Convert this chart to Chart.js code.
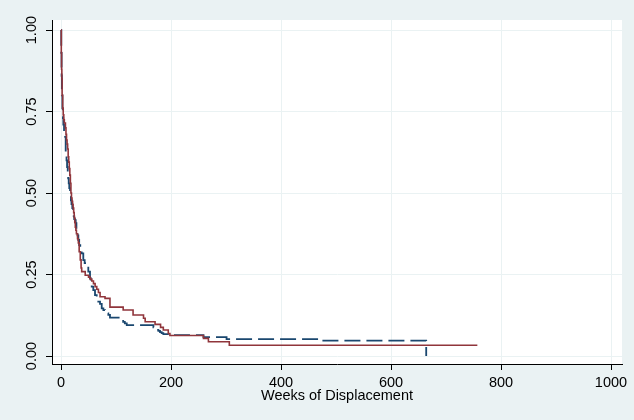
<!DOCTYPE html>
<html>
<head>
<meta charset="utf-8">
<script src="https://cdn.jsdelivr.net/npm/chart.js@4/dist/chart.umd.min.js"></script>
<style>
  html, body { margin: 0; padding: 0; background: #eaf2f3; }
  #c { display: block; }
</style>
</head>
<body>
<canvas id="c" width="634" height="420"></canvas>
<script>
// Kaplan-Meier style survival (weeks, share still displaced)
const blueWeeks = [0, 0.5, 1, 1.5, 2.5, 3.5, 4.2, 5.5, 7, 8.5, 10, 11, 12.2, 13, 14, 15, 16.4, 17, 18, 19, 20.5, 22, 23, 24, 25.5, 26.7, 28, 30, 31.5, 33, 35, 37.6, 40.5, 43, 46.7, 49.6, 52.7, 54, 55.8, 58.7, 61.8, 64.9, 67.8, 70.9, 74, 77, 80, 83, 86, 89, 113, 116, 119.5, 168, 171, 174, 177, 180, 183, 186, 195, 259, 301, 471, 664];
const blueSurv  = [1.0, 0.93, 0.86, 0.80, 0.76, 0.73, 0.71, 0.69, 0.673, 0.623, 0.60, 0.58, 0.555, 0.545, 0.53, 0.515, 0.504, 0.49, 0.478, 0.466, 0.454, 0.44, 0.43, 0.42, 0.417, 0.408, 0.39, 0.37, 0.356, 0.34, 0.325, 0.315, 0.294, 0.285, 0.279, 0.259, 0.239, 0.228, 0.213, 0.202, 0.187, 0.178, 0.167, 0.16, 0.146, 0.141, 0.136, 0.131, 0.126, 0.118, 0.105, 0.10, 0.095, 0.088, 0.084, 0.080, 0.077, 0.073, 0.07, 0.067, 0.064, 0.058, 0.052, 0.047, 0.0];

const redWeeks = [0, 0.5, 1, 1.5, 2, 3, 4, 5, 6, 8, 9, 10, 11, 12, 13, 14, 15, 16, 17, 18, 19, 20, 21, 22, 23, 24, 25, 26, 27, 28, 30, 31.5, 33, 35, 36.5, 37.6, 44, 50, 53, 56, 59, 62, 65, 68, 71, 80, 89, 113, 131, 150, 153, 171, 181, 186, 195, 198, 259, 268, 306, 757];
const redSurv  = [1.0, 0.93, 0.88, 0.85, 0.80, 0.76, 0.74, 0.725, 0.715, 0.70, 0.68, 0.663, 0.65, 0.635, 0.611, 0.595, 0.575, 0.555, 0.53, 0.50, 0.485, 0.475, 0.465, 0.454, 0.44, 0.425, 0.41, 0.395, 0.386, 0.375, 0.36, 0.347, 0.32, 0.295, 0.27, 0.259, 0.248, 0.242, 0.236, 0.23, 0.222, 0.213, 0.205, 0.195, 0.182, 0.177, 0.15, 0.141, 0.126, 0.116, 0.105, 0.097, 0.088, 0.08, 0.069, 0.063, 0.054, 0.044, 0.033, 0.033];

const xTicks = [0, 200, 400, 600, 800, 1000];
const yTicks = [0, 0.25, 0.5, 0.75, 1];
const xTitle = 'Weeks of Displacement';

const navy = '#1a476f';
const maroon = '#90353b';
const bluishGray = '#eaf2f3';
const font = { family: 'Liberation Sans, Arial, sans-serif', size: 14.5 };

function toPoints(xs, ys) {
  return xs.map((x, i) => ({ x: x, y: ys[i] }));
}

const plotBg = {
  id: 'plotBg',
  beforeDraw(chart) {
    const { ctx, chartArea: a } = chart;
    ctx.save();
    ctx.fillStyle = bluishGray;
    ctx.fillRect(0, 0, chart.width, chart.height);
    ctx.fillStyle = '#ffffff';
    ctx.fillRect(a.left, a.top, a.right - a.left, a.bottom - a.top);
    ctx.restore();
  }
};

new Chart(document.getElementById('c'), {
  type: 'line',
  data: {
    datasets: [
      {
        label: 'red',
        data: toPoints(redWeeks, redSurv),
        borderColor: maroon,
        borderWidth: 1.6,
        stepped: 'before',
        pointRadius: 0,
        fill: false
      },
      {
        label: 'blue',
        data: toPoints(blueWeeks, blueSurv),
        borderColor: navy,
        borderWidth: 1.8,
        borderDash: [16, 6],
        stepped: 'before',
        pointRadius: 0,
        fill: false
      }
    ]
  },
  options: {
    responsive: false,
    animation: false,
    layout: { padding: { left: 0, right: 12, top: 20, bottom: 0 } },
    plugins: { legend: { display: false }, tooltip: { enabled: false } },
    scales: {
      x: {
        type: 'linear',
        min: -16.4,
        max: 1020,
        afterBuildTicks: s => { s.ticks = xTicks.map(v => ({ value: v })); },
        afterFit: s => { s.height = 56; },
        grid: { color: bluishGray, lineWidth: 1, tickColor: '#000', tickLength: 6 },
        border: { color: '#000', width: 1 },
        ticks: { color: '#000', font: font, padding: 4, maxRotation: 0, minRotation: 0, callback: v => String(v) },
        title: { display: true, text: xTitle, color: '#000', font: font, padding: { top: 0, bottom: 15 } }
      },
      y: {
        type: 'linear',
        min: -0.0245,
        max: 1.031,
        afterBuildTicks: s => { s.ticks = yTicks.map(v => ({ value: v })); },
        afterFit: s => { s.width = 52; },
        grid: { color: bluishGray, lineWidth: 1, tickColor: '#000', tickLength: 6 },
        border: { color: '#000', width: 1 },
        ticks: { color: '#000', font: font, padding: 0, minRotation: 90, maxRotation: 90, crossAlign: 'center', callback: v => v.toFixed(2) }
      }
    }
  },
  plugins: [plotBg]
});
</script>
</body>
</html>
